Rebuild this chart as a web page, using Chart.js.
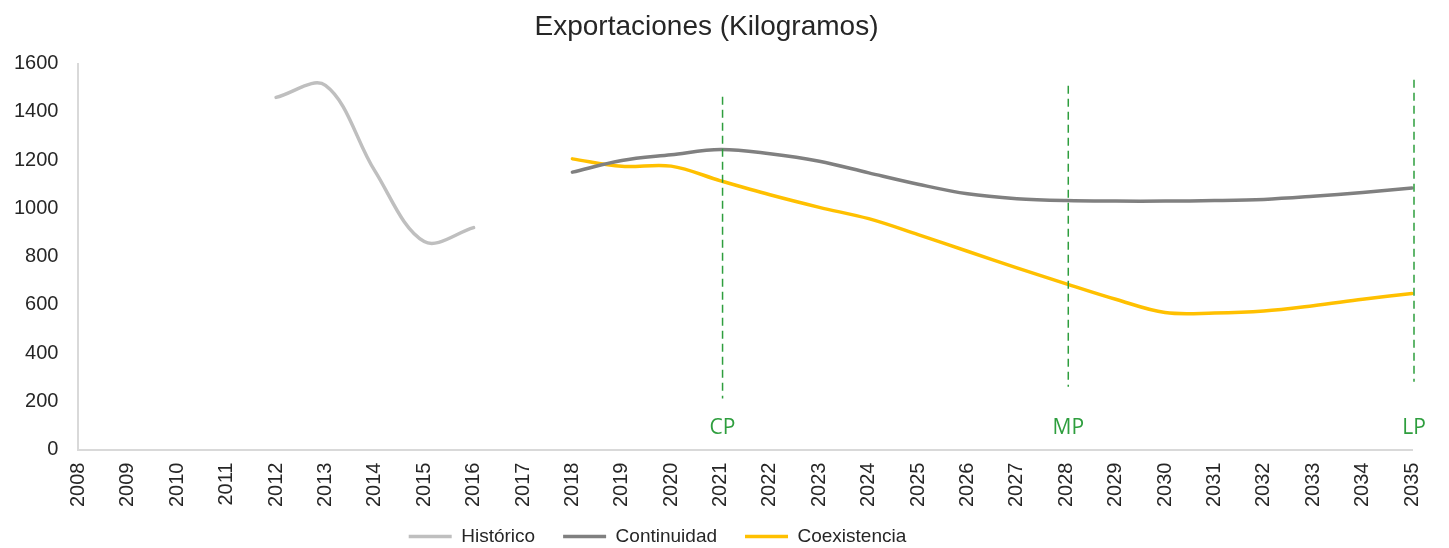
<!DOCTYPE html>
<html>
<head>
<meta charset="utf-8">
<script src="https://cdn.jsdelivr.net/npm/chart.js@4"></script>
<style>
    html, body { margin: 0; padding: 0; background: #fff; }
    #wrap { width: 1449px; height: 548px; }
</style>
</head>
<body>
<div id="wrap"><canvas id="chart"></canvas></div>
<script>
const years = ["2008","2009","2010","2011","2012","2013","2014","2015","2016","2017","2018","2019","2020","2021","2022","2023","2024","2025","2026","2027","2028","2029","2030","2031","2032","2033","2034","2035"]

const historico = [null, null, null, null, 1460, 1510, 1155, 862, 920, null, null, null, null, null, null, null, null, null, null, null, null, null, null, null, null, null, null, null]
const continuidad = [null, null, null, null, null, null, null, null, null, null, 1150, 1198, 1222, 1244, 1226, 1195, 1147, 1100, 1060, 1040, 1032, 1030, 1030, 1032, 1037, 1050, 1066, 1084]
const coexistencia = [null, null, null, null, null, null, null, null, null, null, 1205, 1174, 1175, 1114, 1056, 1004, 957, 891, 822, 753, 687, 623, 568, 566, 574, 596, 623, 647]

// horizon markers (short, medium, long term)
const markerYears = ["2021", "2028", "2035"]
const markerLabels = ["CP", "MP", "LP"]
const markerTop = [1463, 1508, 1533]
const markerBottom = [211, 260, 281]
const markerLabelValue = 88

const markers = {
    id: "markers",
    afterLayout(chart) {
        // legend sits a bit left of centre and closer to the axis in the original
        const lg = chart.legend
        lg.left -= 49
        lg.right -= 49
        lg.top -= 21
        lg.bottom -= 21
    },
    afterDatasetsDraw(chart) {
        const ctx = chart.ctx
        const x = chart.scales.x
        const y = chart.scales.y
        ctx.save()
        ctx.strokeStyle = "#2E9E3E"
        ctx.lineWidth = 1.5
        ctx.setLineDash([8, 5])
        markerYears.forEach((yr, i) => {
            const px = x.getPixelForValue(years.indexOf(yr)) + 2
            ctx.beginPath()
            ctx.moveTo(px, y.getPixelForValue(markerTop[i]))
            ctx.lineTo(px, y.getPixelForValue(markerBottom[i]))
            ctx.stroke()
        })
        ctx.setLineDash([])
        ctx.fillStyle = "#2E9E3E"
        ctx.font = "21px 'Open Sans', 'Noto Sans', sans-serif"
        ctx.textAlign = "center"
        ctx.textBaseline = "middle"
        markerYears.forEach((yr, i) => {
            const px = x.getPixelForValue(years.indexOf(yr))
            ctx.fillText(markerLabels[i], px + 2, y.getPixelForValue(markerLabelValue))
        })
        ctx.restore()
    }
}

const font = "'Liberation Sans', Arial, sans-serif"

new Chart(document.getElementById("chart").getContext("2d"), {
    type: "line",
    data: {
        labels: years,
        datasets: [
            { label: "Histórico", data: historico, borderColor: "#BFBFBF", backgroundColor: "#BFBFBF", borderWidth: 3.5 },
            { label: "Continuidad", data: continuidad, borderColor: "#808080", backgroundColor: "#808080", borderWidth: 3.5 },
            { label: "Coexistencia", data: coexistencia, borderColor: "#FFC000", backgroundColor: "#FFC000", borderWidth: 3.5 }
        ]
    },
    options: {
        responsive: true,
        maintainAspectRatio: false,
        animation: false,
        spanGaps: false,
        layout: { padding: { left: -6, right: 30, top: 6, bottom: -29 } },
        elements: {
            point: { radius: 0 },
            line: { tension: 0.35, borderCapStyle: "round" }
        },
        plugins: {
            title: {
                display: true,
                text: "Exportaciones (Kilogramos)",
                color: "#262626",
                font: { family: font, size: 28, weight: "normal" },
                padding: { top: 4, bottom: 20 }
            },
            legend: {
                position: "bottom",
                labels: {
                    color: "#262626",
                    font: { family: font, size: 19 },
                    usePointStyle: true,
                    pointStyle: "line",
                    pointStyleWidth: 43,
                    padding: 28
                }
            },
            tooltip: { enabled: false }
        },
        scales: {
            x: {
                offset: false,
                grid: { display: false, drawTicks: false },
                border: { color: "#D9D9D9", width: 2 },
                ticks: {
                    color: "#262626",
                    font: { family: font, size: 20 },
                    maxRotation: 90,
                    minRotation: 90,
                    autoSkip: false,
                    padding: 13
                }
            },
            y: {
                min: 0,
                max: 1600,
                grid: { display: false, drawTicks: false },
                border: { color: "#D9D9D9", width: 2 },
                ticks: {
                    stepSize: 200,
                    color: "#262626",
                    font: { family: font, size: 20 },
                    padding: 20,
                    callback: v => String(v)
                }
            }
        }
    },
    plugins: [markers]
})
</script>
</body>
</html>
